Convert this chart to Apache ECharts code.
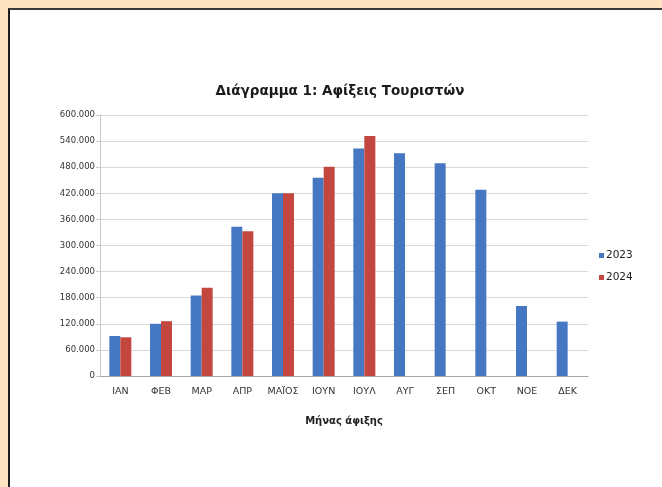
<!DOCTYPE html>
<html>
<head>
<meta charset="utf-8">
<script src="https://cdn.jsdelivr.net/npm/echarts@6/dist/echarts.min.js"></script>
<style>
  html, body { margin: 0; padding: 0; }
  body { width: 662px; height: 487px; background: #fee5c1; position: relative; overflow: hidden; }
  #frame {
    position: absolute; left: 8px; top: 8px; right: 0; bottom: 0;
    background: #fff; border-left: 2px solid #1e1e1e; border-top: 2px solid #3a3a3a;
  }
  #chart { position: absolute; left: 0; top: 0; width: 662px; height: 487px; }
</style>
</head>
<body>
<div id="frame"></div>
<div id="chart"></div>
<script>
const months = ['ΙΑΝ', 'ΦΕΒ', 'ΜΑΡ', 'ΑΠΡ', 'ΜΑΪΟΣ', 'ΙΟΥΝ', 'ΙΟΥΛ', 'ΑΥΓ', 'ΣΕΠ', 'ΟΚΤ', 'ΝΟΕ', 'ΔΕΚ']
const arrivals2023 = [92000, 120000, 185000, 343000, 420000, 456000, 523000, 512000, 489000, 428000, 161000, 125000]
const arrivals2024 = [89000, 126000, 203000, 333000, 420000, 481000, 552000, null, null, null, null, null]

// 600000 -> 600.000
const fmt = v => String(v).replace(/\B(?=(\d{3})+(?!\d))/g, '.')

const font = 'DejaVu Sans, Verdana, sans-serif'

const myChart = echarts.init(document.getElementById('chart'))

const option = {
  animation: false,
  textStyle: { fontFamily: font },
  title: {
    text: 'Διάγραμμα 1: Αφίξεις Τουριστών',
    left: 335,
    textAlign: 'center',
    top: 79,
    textStyle: { fontSize: 13.5, fontWeight: 'bold', color: '#1a1a1a', fontFamily: font }
  },
  legend: {
    orient: 'vertical',
    left: 594,
    top: 245,
    itemWidth: 5,
    itemHeight: 5,
    itemGap: 11,
    icon: 'rect',
    textStyle: { fontSize: 10.5, color: '#222', padding: [0, 0, 0, -3], fontFamily: font }
  },
  grid: { left: 100, right: 74, top: 115, bottom: 111 },
  xAxis: {
    type: 'category',
    data: months,
    name: 'Μήνας άφιξης',
    nameLocation: 'middle',
    nameGap: 40,
    nameTextStyle: { fontSize: 10, fontWeight: 'bold', color: '#222', fontFamily: font },
    axisLine: { lineStyle: { color: '#a6a6a6' } },
    axisTick: { show: false },
    axisLabel: { fontSize: 9.5, color: '#333', margin: 11, interval: 0 }
  },
  yAxis: {
    type: 'value',
    min: 0,
    max: 600000,
    interval: 60000,
    axisLine: { show: true, lineStyle: { color: '#c8c8c8' } },
    axisTick: { show: true, length: 4, lineStyle: { color: '#c8c8c8' } },
    splitLine: { lineStyle: { color: '#d9d9d9' } },
    axisLabel: { fontSize: 8.5, color: '#333', margin: 5, formatter: fmt }
  },
  series: [
    {
      name: '2023',
      type: 'bar',
      data: arrivals2023,
      barWidth: 11,
      barGap: '0%',
      itemStyle: { color: '#4677c2' }
    },
    {
      name: '2024',
      type: 'bar',
      data: arrivals2024,
      barWidth: 11,
      barGap: '0%',
      itemStyle: { color: '#c3463f' }
    }
  ]
}

myChart.setOption(option)
</script>
</body>
</html>
